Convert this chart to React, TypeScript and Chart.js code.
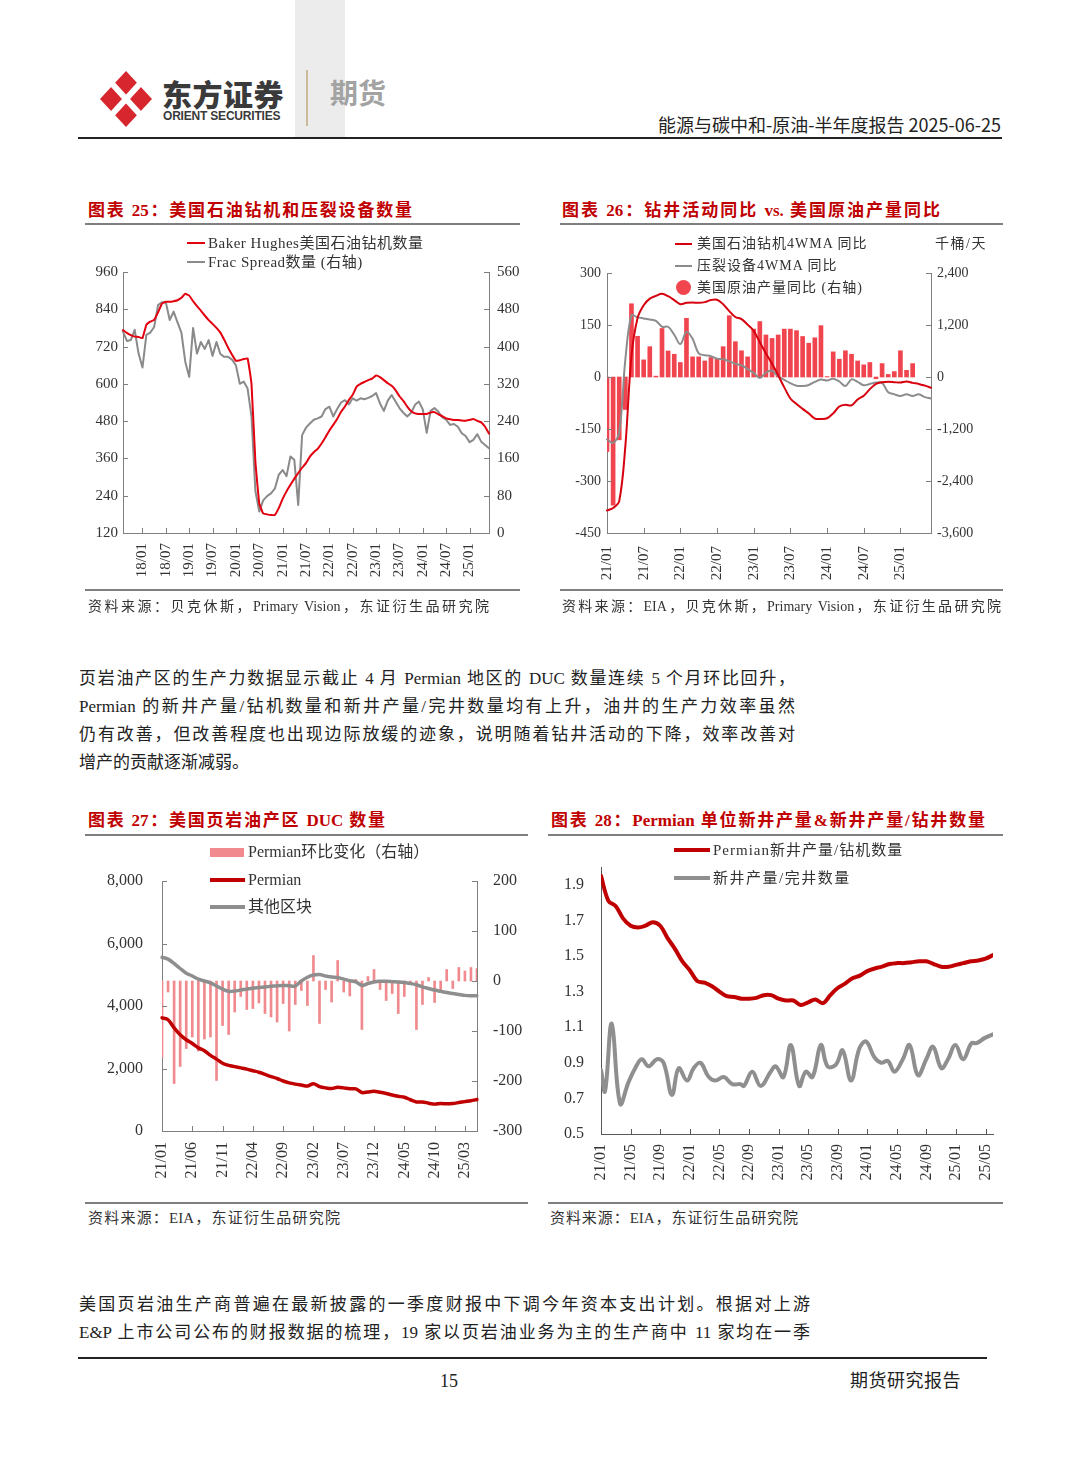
import React, { useEffect, useRef } from 'react';
import { Chart, registerables } from 'chart.js';

Chart.register(...registerables);

const SERIF = "'Liberation Serif', 'Noto Sans CJK SC', serif";
const SANS = "'Noto Sans CJK SC', 'Liberation Sans', sans-serif";

function monthLabels(y0: number, m0: number, n: number): string[] {
  const out: string[] = [];
  for (let i = 0; i < n; i++) {
    const t = m0 - 1 + i;
    const y = y0 + Math.floor(t / 12);
    const m = (t % 12) + 1;
    out.push(String(y % 100).padStart(2, '0') + '/' + String(m).padStart(2, '0'));
  }
  return out;
}

// ---------- Chart 25: rigs & frac spreads (2017/08 - 2025/06, monthly) ----------
const c25Months = monthLabels(2017, 8, 95);
const c25TickLabels = ['18/01', '18/07', '19/01', '19/07', '20/01', '20/07', '21/01', '21/07', '22/01', '22/07', '23/01', '23/07', '24/01', '24/07', '25/01'];
const c25Rigs = [
  773, 764, 757, 752, 751, 747, 790, 800, 806, 830,
  858, 864, 864, 866, 869, 877, 890, 884, 866, 850,
  836, 820, 805, 793, 780, 765, 742, 716, 694, 674,
  676, 680, 682, 600, 350, 215, 183, 180, 178, 178,
  200, 230, 254, 275, 295, 313, 330, 345, 366, 380,
  391, 408, 428, 450, 468, 487, 510, 527, 548, 565,
  591, 600, 606, 612, 617, 627, 622, 612, 602, 594,
  580, 560, 545, 527, 512, 505, 503, 503, 503, 508,
  509, 502, 496, 489, 486, 484, 484, 482, 481, 484,
  487, 481, 476, 462, 440,
];
const c25Frac = [
  432, 412, 414, 436, 385, 355, 425, 430, 442, 489,
  495, 495, 457, 475, 452, 430, 367, 335, 440, 385,
  410, 395, 414, 380, 410, 384, 378, 378, 372, 360,
  320, 325, 310, 250, 90, 46, 70, 79, 85, 95,
  125, 135, 122, 164, 157, 60, 210, 226, 235, 243,
  246, 250, 266, 271, 250, 266, 280, 285, 276, 289,
  284, 289, 287, 290, 294, 300, 278, 262, 284, 296,
  282, 268, 258, 250, 258, 275, 282, 265, 215, 262,
  268, 260, 248, 243, 232, 234, 228, 214, 208, 195,
  200, 212, 196, 189, 182,
];

// ---------- Chart 26: drilling activity yoy vs crude output yoy (2021/01 - 2025/06) ----------
const c26Months = monthLabels(2021, 1, 54);
const c26TickLabels = ['21/01', '21/07', '22/01', '22/07', '23/01', '23/07', '24/01', '24/07', '25/01'];
const c26RigYoy = [
  -385, -378, -358, -200, 60, 170, 207, 226, 234, 240,
  233, 222, 210, 214, 215, 214, 216, 222, 223, 210,
  190, 173, 167, 151, 133, 100, 68, 38, 5, -30,
  -62, -78, -92, -105, -120, -121, -119, -105, -85, -80,
  -82, -65, -54, -35, -20, -15, -14, -15, -16, -13,
  -17, -20, -25, -31,
];
const c26FracYoy = [
  -180, -190, -160, 50, 178, 172, 169, 166, 162, 145,
  145, 122, 95, 130, 110, 68, 63, 60, 53, 51,
  45, 38, 34, 23, 12, -3, 13, 18, 2, -8,
  -18, -25, -26, -23, -14, -7, -10, -5, -13, -26,
  -7, -14, -24, -20, -16, -17, -44, -50, -55, -50,
  -55, -50, -58, -62,
];
const c26ProdYoy = [
  -1720, -2960, -1450, -750, 1690, 940, 395, 700, 20, 1120,
  600, 525, 335, 1355, 465, 465, 370, 450, 425, 700,
  1415, 815, 605, 465, 1105, 1280, 970, 890, 970, 1105,
  1105, 1070, 935, 780, 905, 1185, 10, 580, 410, 605,
  525, 370, 280, 335, -40, 310, 60, 125, 605, 155,
  310, null, null, null,
];

// ---------- Chart 27: DUC counts (2021/01 - 2025/05) ----------
const c27Months = monthLabels(2021, 1, 53);
const c27TickLabels = ['21/01', '21/06', '21/11', '22/04', '22/09', '23/02', '23/07', '23/12', '24/05', '24/10', '25/03'];
const c27PermianChg = [
  -153, -22, -205, -171, -135, -112, -140, -116, -112, -199,
  -89, -107, -62, -31, -57, -55, -44, -65, -72, -82,
  -45, -100, -47, -19, -49, 51, -85, -17, -42, 41,
  -22, -30, 3, -97, 9, 23, -17, -39, -25, -65,
  -31, -2, -97, -47, 7, -43, -19, 23, -15, 27,
  20, 27, 25,
];
const c27Permian = [
  3620, 3560, 3300, 3080, 2920, 2800, 2660, 2570, 2420, 2300,
  2170, 2100, 2060, 2020, 1980, 1930, 1880, 1810, 1740, 1680,
  1600, 1540, 1500, 1470, 1440, 1510, 1420, 1380, 1360, 1400,
  1380, 1350, 1350, 1230, 1250, 1270, 1240, 1200, 1150, 1110,
  1080, 1000, 930, 930, 890, 860, 880, 870, 880, 910,
  940, 970, 1010,
];
const c27Other = [
  5560, 5500, 5360, 5200, 5050, 4960, 4860, 4800, 4740, 4640,
  4540, 4470, 4480, 4510, 4540, 4570, 4590, 4610, 4630, 4650,
  4660, 4650, 4640, 4800, 4920, 4990, 5010, 4960, 4930, 4910,
  4860, 4810, 4770, 4660, 4720, 4770, 4790, 4790, 4780, 4770,
  4750, 4720, 4680, 4610, 4560, 4510, 4470, 4430, 4400, 4370,
  4340, 4330, 4330,
];

// ---------- Chart 28: Permian productivity (2021/01 - 2025/06) ----------
const c28Months = monthLabels(2021, 1, 54);
const c28TickLabels = ['21/01', '21/05', '21/09', '22/01', '22/05', '22/09', '23/01', '23/05', '23/09', '24/01', '24/05', '24/09', '25/01', '25/05'];
const c28YTicks = [0.5, 0.7, 0.9, 1.1, 1.3, 1.5, 1.7, 1.9];
const c28PerRig = [
  1.95, 1.81, 1.78, 1.71, 1.67, 1.66, 1.67, 1.69, 1.67, 1.60,
  1.54, 1.47, 1.42, 1.36, 1.35, 1.33, 1.30, 1.275, 1.27, 1.26,
  1.26, 1.265, 1.28, 1.28, 1.26, 1.25, 1.25, 1.225, 1.24, 1.255,
  1.235, 1.28, 1.32, 1.345, 1.375, 1.39, 1.415, 1.43, 1.44, 1.455,
  1.46, 1.46, 1.465, 1.47, 1.47, 1.455, 1.44, 1.44, 1.45, 1.46,
  1.47, 1.475, 1.485, 1.505,
];
const c28PerWellMonth = [
  0, 0.54, 1.45, 2.58, 3.71, 4.62, 5.52, 6.43, 7.56, 8.46,
  9.59, 10.5, 11.63, 12.53, 13.44, 14.57, 15.48, 16.61, 17.74, 18.87,
  19.32, 20.45, 21.58, 22.94, 23.62, 24.66, 25.66, 26.79, 27.69, 28.6,
  29.73, 30.63, 31.76, 32.67, 33.8, 34.93, 35.84, 36.97, 37.87, 38.78,
  39.68, 40.81, 41.72, 42.85, 43.98, 44.89, 46.02, 46.92, 47.92, 48.96,
  50.09, 50.77, 51.9, 53,
];
const c28PerWell = [
  0.86, 0.74, 1.12, 0.67, 0.79, 0.87, 0.92, 0.88, 0.92, 0.90,
  0.72, 0.87, 0.80, 0.87, 0.90, 0.82, 0.80, 0.82, 0.78, 0.78,
  0.77, 0.85, 0.77, 0.85, 0.88, 0.82, 1.00, 0.77, 0.85, 0.82,
  1.00, 0.88, 0.89, 0.97, 0.80, 0.98, 1.02, 0.93, 0.90, 0.91,
  0.85, 0.92, 1.00, 0.83, 0.92, 0.99, 0.87, 0.92, 1.00, 0.92,
  1.01, 1.01, 1.04, 1.06,
];

const P1 = [
  '页岩油产区的生产力数据显示截止 4 月 Permian 地区的 DUC 数量连续 5 个月环比回升，',
  'Permian 的新井产量/钻机数量和新井产量/完井数量均有上升，油井的生产力效率虽然',
  '仍有改善，但改善程度也出现边际放缓的迹象，说明随着钻井活动的下降，效率改善对',
  '增产的贡献逐渐减弱。',
];
const P2 = [
  '美国页岩油生产商普遍在最新披露的一季度财报中下调今年资本支出计划。根据对上游',
  'E&P 上市公司公布的财报数据的梳理，19 家以页岩油业务为主的生产商中 11 家均在一季',
];

// ---------- plugin: inward tick marks ----------
const innerTicks = {
  id: 'innerTicks',
  afterDatasetsDraw(chart: any, _a: any, opts: any) {
    if (!opts || !opts.axes) return;
    const ctx = chart.ctx;
    const len = opts.length || 5;
    ctx.save();
    ctx.strokeStyle = opts.color || '#808080';
    ctx.lineWidth = 1;
    String(opts.axes).split(',').forEach((id: string) => {
      const s = chart.scales[id];
      if (!s) return;
      s.ticks.forEach((t: any, i: number) => {
        if (s.isHorizontal()) {
          if (!t.label) return;
          const x = Math.round(s.getPixelForTick(i)) + 0.5;
          ctx.beginPath();
          ctx.moveTo(x, s.top);
          ctx.lineTo(x, s.top - len);
          ctx.stroke();
        } else {
          const y = Math.round(s.getPixelForTick(i)) + 0.5;
          ctx.beginPath();
          if (s.position === 'left') {
            ctx.moveTo(s.right, y);
            ctx.lineTo(s.right + len, y);
          } else {
            ctx.moveTo(s.left, y);
            ctx.lineTo(s.left - len, y);
          }
          ctx.stroke();
        }
      });
    });
    ctx.restore();
  },
};
Chart.register(innerTicks as any);

// every canvas reserves PAD px above the plot so that the plot top is exact
const PAD = 30;

function base(padRight: number, tick: any) {
  return {
    responsive: false,
    animation: false,
    devicePixelRatio: 1,
    events: [],
    layout: { padding: { top: PAD, right: padRight, left: 0, bottom: 0 } },
    plugins: { legend: { display: false }, tooltip: { enabled: false }, innerTicks: tick },
    elements: { point: { radius: 0 }, line: { borderJoinStyle: 'round', borderCapStyle: 'round' } },
  };
}

function xCat(labels: string[], shown: string[], h: number, pad: number, size: number, border: string) {
  const set = new Set(shown);
  return {
    type: 'category',
    offset: false,
    grid: { display: false, drawTicks: false },
    border: { display: true, color: border, width: 1 },
    ticks: {
      autoSkip: false,
      minRotation: 90,
      maxRotation: 90,
      padding: pad,
      font: { family: SERIF, size },
      color: '#333',
      callback: (_v: any, i: number) => (set.has(labels[i]) ? labels[i] : ''),
    },
    afterFit: (s: any) => {
      s.height = h;
    },
  };
}

function yLin(position: string, min: number, max: number, step: number, w: number, pad: number, size: number, border: string) {
  return {
    type: 'linear',
    position,
    min,
    max,
    grid: { display: false, drawTicks: false },
    border: { display: true, color: border, width: 1 },
    ticks: { stepSize: step, padding: pad, font: { family: SERIF, size }, color: '#333' },
    afterFit: (s: any) => {
      s.width = w;
    },
  };
}

function build25(): any {
  return {
    type: 'line',
    data: {
      labels: c25Months,
      datasets: [
        { label: 'Baker Hughes美国石油钻机数量', data: c25Rigs, yAxisID: 'y', borderColor: '#e3000f', borderWidth: 2, tension: 0.1, order: 1 },
        { label: 'Frac Spread数量 (右轴)', data: c25Frac, yAxisID: 'y1', borderColor: '#8a8a8a', borderWidth: 2, tension: 0, order: 2 },
      ],
    },
    options: {
      ...base(0, { axes: 'x,y,y1', color: '#7f7f7f', length: 5 }),
      scales: {
        x: xCat(c25Months, c25TickLabels, 57, 10, 15, '#7f7f7f'),
        y: yLin('left', 120, 960, 120, 38, 5, 15, '#7f7f7f'),
        y1: yLin('right', 0, 560, 80, 36, 8, 15, '#7f7f7f'),
      },
    },
  };
}

function build26(): any {
  return {
    type: 'line',
    data: {
      labels: c26Months,
      datasets: [
        { label: '美国石油钻机4WMA 同比', data: c26RigYoy, yAxisID: 'y', borderColor: '#d6000f', borderWidth: 2, tension: 0.35, order: 1 },
        { label: '压裂设备4WMA 同比', data: c26FracYoy, yAxisID: 'y', borderColor: '#8c8c8c', borderWidth: 2, tension: 0.35, order: 2 },
        { type: 'bar', label: '美国原油产量同比 (右轴)', data: c26ProdYoy, yAxisID: 'y1', backgroundColor: '#f0454f', barThickness: 4, order: 3 },
      ],
    },
    options: {
      ...base(0, { axes: 'x,y,y1', color: '#7f7f7f', length: 5 }),
      scales: {
        x: xCat(c26Months, c26TickLabels, 57, 13, 15, '#7f7f7f'),
        y: yLin('left', -450, 300, 150, 47, 6, 14, '#7f7f7f'),
        y1: yLin('right', -3600, 2400, 1200, 74, 6, 14, '#7f7f7f'),
      },
    },
  };
}

function build27(): any {
  return {
    type: 'line',
    data: {
      labels: c27Months,
      datasets: [
        { label: 'Permian', data: c27Permian, yAxisID: 'y', borderColor: '#c00000', borderWidth: 3.5, tension: 0.3, order: 1 },
        { label: '其他区块', data: c27Other, yAxisID: 'y', borderColor: '#8e8e8e', borderWidth: 3.5, tension: 0.3, order: 2 },
        { type: 'bar', label: 'Permian环比变化（右轴）', data: c27PermianChg, yAxisID: 'y1', backgroundColor: '#f08a8e', barThickness: 2, order: 3 },
      ],
    },
    options: {
      ...base(0, { axes: 'x,y,y1', color: '#7f7f7f', length: 5 }),
      scales: {
        x: xCat(c27Months, c27TickLabels, 65, 11, 16, '#7f7f7f'),
        y: yLin('left', 0, 8000, 2000, 77, 19, 16, '#7f7f7f'),
        y1: yLin('right', -300, 200, 100, 53, 16, 16, '#7f7f7f'),
      },
    },
  };
}

function build28(): any {
  return {
    type: 'line',
    data: {
      datasets: [
        { label: 'Permian新井产量/钻机数量', data: c28PerRig.map((v, i) => ({ x: i, y: v })), borderColor: '#c00000', borderWidth: 4, tension: 0.35, order: 1 },
        { label: '新井产量/完井数量', data: c28PerWellMonth.map((m, k) => ({ x: m, y: c28PerWell[k] })), borderColor: '#8f8f8f', borderWidth: 4, tension: 0.4, order: 2 },
      ],
    },
    options: {
      ...base(PAD, { axes: 'x', color: '#595959', length: 5 }),
      scales: {
        x: {
          type: 'linear',
          min: 0,
          max: 53,
          grid: { display: false, drawTicks: false },
          border: { display: true, color: '#595959', width: 1 },
          afterBuildTicks: (s: any) => {
            s.ticks = c28TickLabels.map((l) => ({ value: c28Months.indexOf(l) }));
          },
          ticks: {
            autoSkip: false,
            minRotation: 90,
            maxRotation: 90,
            padding: 10,
            font: { family: SERIF, size: 16 },
            color: '#333',
            callback: (v: any) => c28Months[Math.round(v)],
          },
          afterFit: (s: any) => {
            s.height = 62;
          },
        },
        y: {
          type: 'linear',
          position: 'left',
          min: 0.5,
          max: 2.0,
          grid: { display: false, drawTicks: false },
          border: { display: true, color: '#595959', width: 1 },
          afterBuildTicks: (s: any) => {
            s.ticks = c28YTicks.map((v) => ({ value: v }));
          },
          ticks: { padding: 17, font: { family: SERIF, size: 16 }, color: '#333', callback: (v: any) => Number(v).toFixed(1) },
          afterFit: (s: any) => {
            s.width = 56;
          },
        },
      },
    },
  };
}

function ChartCanvas({ left, top, width, height, build }: any) {
  const ref = useRef<HTMLCanvasElement>(null);
  useEffect(() => {
    const chart = new Chart(ref.current as HTMLCanvasElement, build());
    return () => chart.destroy();
  }, []);
  return <canvas ref={ref} width={width} height={height} style={{ position: 'absolute', left, top, width, height }} />;
}

function Txt({ x, y, size, text, color = '#222', weight = 400, family = SERIF, width, ls = 0, right }: any) {
  const style: any = {
    position: 'absolute',
    left: x,
    top: y - size / 2 - 1,
    fontSize: size,
    lineHeight: `${size + 2}px`,
    color,
    fontWeight: weight,
    fontFamily: family,
    letterSpacing: ls,
    whiteSpace: 'nowrap',
  };
  if (width) {
    style.width = width;
    if (right) {
      style.textAlign = 'right';
    } else {
      style.textAlign = 'justify';
      style.textAlignLast = 'justify';
      style.whiteSpace = 'normal';
    }
  }
  return <div style={style}>{text}</div>;
}

function HLine({ x1, x2, y, color = '#7f7f7f', th = 1.5 }: any) {
  return <div style={{ position: 'absolute', left: x1, top: y - th / 2, width: x2 - x1, height: th, background: color }} />;
}

function Mark({ x, y, w, h, color }: any) {
  return <div style={{ position: 'absolute', left: x, top: y - h / 2, width: w, height: h, background: color }} />;
}

export default function App() {
  return (
    <div style={{ position: 'absolute', left: 0, top: 0, width: 1080, height: 1466, background: '#fff', overflow: 'hidden', fontFamily: SERIF }}>
      {/* header */}
      <div style={{ position: 'absolute', left: 295, top: 0, width: 50, height: 137, background: '#ececec' }} />
      <svg style={{ position: 'absolute', left: 99, top: 70 }} width={54} height={58} viewBox="0 0 54 58">
        <polygon points="27,1 53,29 27,57 1,29" fill="#d7262d" />
        <line x1="6" y1="6" x2="48" y2="52" stroke="#fff" strokeWidth="6" />
        <line x1="48" y1="6" x2="6" y2="52" stroke="#fff" strokeWidth="6" />
      </svg>
      <div style={{ position: 'absolute', left: 162, top: 76, fontFamily: SANS, fontWeight: 900, fontSize: 30, lineHeight: '34px', color: '#3a3a3a', letterSpacing: 0.5 }}>东方证券</div>
      <div style={{ position: 'absolute', left: 163, top: 109, fontFamily: "'Liberation Sans', Arial, sans-serif", fontWeight: 700, fontSize: 12, lineHeight: '14px', color: '#3a3a3a', letterSpacing: -0.2 }}>ORIENT SECURITIES</div>
      <div style={{ position: 'absolute', left: 306, top: 70, width: 2, height: 56, background: '#cdbb9c' }} />
      <div style={{ position: 'absolute', left: 330, top: 76, fontFamily: SANS, fontWeight: 700, fontSize: 28, lineHeight: '32px', color: '#a3a3a3' }}>期货</div>
      <Txt x={500} y={124} size={18} width={501} right text="能源与碳中和-原油-半年度报告 2025-06-25" family={SANS} color="#222" />
      <HLine x1={78} x2={1002} y={138} color="#222" th={2} />

      {/* titles row 1 */}
      <Txt x={88} y={210} size={17} width={324} weight={700} color="#c00000" family={SERIF} text="图表 25：美国石油钻机和压裂设备数量" />
      <HLine x1={85} x2={520} y={224} />
      <Txt x={562} y={210} size={17} width={378} weight={700} color="#c00000" family={SERIF} text="图表 26：钻井活动同比 vs. 美国原油产量同比" />
      <HLine x1={560} x2={1003} y={224} />

      {/* charts row 1 (plot tops 272 / 273, bottoms 533) */}
      <ChartCanvas left={85} top={272 - PAD} width={440} height={590 - (272 - PAD)} build={build25} />
      <ChartCanvas left={560} top={273 - PAD} width={445} height={590 - (273 - PAD)} build={build26} />

      {/* legend 25 */}
      <Mark x={187} y={243} w={18} h={2.5} color="#e3000f" />
      <Txt x={208} y={243} size={15} text="Baker Hughes美国石油钻机数量" color="#333" ls={0.5} />
      <Mark x={187} y={262} w={18} h={2.5} color="#8a8a8a" />
      <Txt x={208} y={262} size={15} text="Frac Spread数量 (右轴)" color="#333" ls={0.5} />

      {/* legend 26 */}
      <Mark x={675} y={244} w={17} h={2.5} color="#d6000f" />
      <Txt x={697} y={244} size={14} text="美国石油钻机4WMA 同比" color="#333" ls={1} />
      <Mark x={675} y={266} w={17} h={2.5} color="#8c8c8c" />
      <Txt x={697} y={266} size={14} text="压裂设备4WMA 同比" color="#333" ls={1} />
      <div style={{ position: 'absolute', left: 676, top: 280, width: 15, height: 15, borderRadius: '50%', background: '#f0454f' }} />
      <Txt x={697} y={288} size={14} text="美国原油产量同比 (右轴)" color="#333" ls={1} />
      <Txt x={935} y={244} size={14} text="千桶/天" color="#333" ls={1.5} />

      {/* sources row 1 */}
      <HLine x1={85} x2={520} y={590} />
      <Txt x={88} y={607} size={14} width={401} color="#333" text="资料来源：贝克休斯，Primary Vision，东证衍生品研究院" />
      <HLine x1={560} x2={1003} y={590} />
      <Txt x={562} y={607} size={14} width={439} color="#333" text="资料来源：EIA，贝克休斯，Primary Vision，东证衍生品研究院" />

      {/* paragraph 1 */}
      {P1.map((line, i) => (
        <Txt key={i} x={79} y={678 + i * 28} size={17} width={i < P1.length - 1 ? 716 : undefined} text={line} color="#222" />
      ))}

      {/* titles row 2 */}
      <Txt x={88} y={820} size={17} width={297} weight={700} color="#c00000" text="图表 27：美国页岩油产区 DUC 数量" />
      <HLine x1={85} x2={528} y={835} />
      <Txt x={551} y={820} size={17} width={434} weight={700} color="#c00000" text="图表 28：Permian 单位新井产量&新井产量/钻井数量" />
      <HLine x1={548} x2={1003} y={835} />

      {/* charts row 2 (plot tops 881 / 867) */}
      <ChartCanvas left={85} top={881 - PAD} width={445} height={1196 - (881 - PAD)} build={build27} />
      <ChartCanvas left={545} top={867 - PAD} width={993 + PAD - 545} height={1196 - (867 - PAD)} build={build28} />

      {/* legend 27 */}
      <Mark x={210} y={852} w={34} h={9} color="#f08a8e" />
      <Txt x={248} y={852} size={16} text="Permian环比变化（右轴）" color="#333" />
      <Mark x={210} y={880} w={35} h={3.5} color="#c00000" />
      <Txt x={248} y={880} size={16} text="Permian" color="#333" />
      <Mark x={210} y={907} w={35} h={3.5} color="#8e8e8e" />
      <Txt x={248} y={907} size={16} text="其他区块" color="#333" />

      {/* legend 28 */}
      <Mark x={674} y={850} w={36} h={4} color="#c00000" />
      <Txt x={713} y={850} size={15} text="Permian新井产量/钻机数量" color="#333" ls={1} />
      <Mark x={674} y={878} w={36} h={4} color="#8f8f8f" />
      <Txt x={713} y={878} size={15} text="新井产量/完井数量" color="#333" ls={1.5} />

      {/* sources row 2 */}
      <HLine x1={85} x2={528} y={1203} />
      <Txt x={88} y={1218} size={15} width={252} color="#333" text="资料来源：EIA，东证衍生品研究院" />
      <HLine x1={548} x2={1003} y={1203} />
      <Txt x={550} y={1218} size={15} width={248} color="#333" text="资料来源：EIA，东证衍生品研究院" />

      {/* paragraph 2 */}
      {P2.map((line, i) => (
        <Txt key={i} x={79} y={1304 + i * 28} size={17} width={731} text={line} color="#222" />
      ))}

      {/* footer */}
      <HLine x1={78} x2={987} y={1358} color="#222" th={1.5} />
      <Txt x={440} y={1381} size={18} text="15" color="#222" />
      <Txt x={850} y={1381} size={18} text="期货研究报告" color="#222" ls={0.5} />
    </div>
  );
}
